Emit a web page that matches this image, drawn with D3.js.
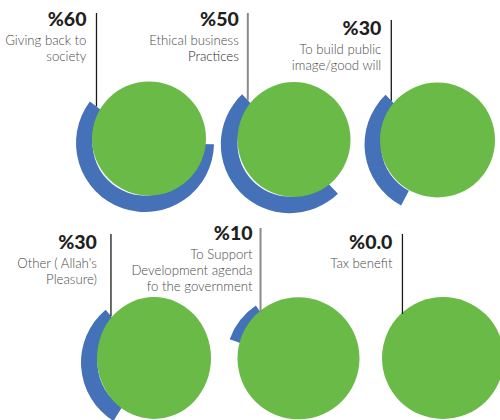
<!DOCTYPE html>
<html>
<head>
<meta charset="utf-8">
<script src="https://cdn.jsdelivr.net/npm/d3@7"></script>
<style>
  html, body { margin: 0; padding: 0; background: #fff; }
  svg { display: block; }
</style>
</head>
<body>
<svg id="chart" width="500" height="420"></svg>
<script>
// Survey answers: share of respondents naming each motive
const motives = [
  ["Giving back to", "society"],
  ["Ethical business", "Practices"],
  ["To build public", "image/good will"],
  ["Other ( Allah's", "Pleasure)"],
  ["To Support", "Development agenda", "fo the government"],
  ["Tax benefit"]
];
const shares = [60, 50, 30, 30, 10, 0];

// Layout of the six gauges (ring centre, disc size, anchor angle, caption placement)
const layout = [
  { cx: 145, cy: 143, rx: 57, ry: 57, anchor: -53, lineTop: 13,  pctY: 26,  gap: 10, strong: true },
  { cx: 290, cy: 144, rx: 56.5, ry: 57.5, anchor: -44, lineTop: 13,  pctY: 26,  gap: 9,  strong: false },
  { cx: 433.5, cy: 144.5, rx: 57.5, ry: 57.5, anchor: -44, lineTop: 20,  pctY: 35,  gap: 10, strong: true },
  { cx: 150, cy: 362.5, rx: 57, ry: 61, anchor: -40, lineTop: 234, pctY: 249, gap: 14, strong: true },
  { cx: 294.5, cy: 362.8, rx: 61, ry: 61, anchor: -34, lineTop: 228, pctY: 240, gap: 8,  strong: false },
  { cx: 439, cy: 362.5, rx: 61, ry: 61, anchor: -37, lineTop: 234, pctY: 249, gap: 10, strong: true }
];

const BLUE = "#4571b8", GREEN = "#69ba47";
const inner = 52.5, outer = 69, mid = (inner + outer) / 2;
const discShift = [4, -4.5];

const svg = d3.select("#chart");
const toRad = d => d * Math.PI / 180;
const sweep = d3.scaleLinear().domain([0, 100]).range([0, 2 * Math.PI]);
const arc = d3.arc().innerRadius(inner).outerRadius(outer);
const fmt = v => "%" + (v === 0 ? d3.format(".1f")(v) : d3.format("d")(v));

const g = svg.selectAll("g.gauge")
  .data(shares.map((v, i) => ({ v, text: motives[i], L: layout[i] })))
  .join("g")
  .attr("class", "gauge");

g.each(function (d) {
  const sel = d3.select(this);
  const L = d.L;
  const end = toRad(L.anchor);
  const start = end - sweep(d.v);

  // blue share ring, ending at the anchor angle
  if (d.v > 0) {
    sel.append("path")
      .attr("transform", `translate(${L.cx},${L.cy})`)
      .attr("d", arc({ startAngle: start, endAngle: end }))
      .attr("fill", BLUE);
  }

  // green disc on top
  sel.append("ellipse")
    .attr("cx", L.cx + discShift[0])
    .attr("cy", L.cy + discShift[1])
    .attr("rx", L.rx)
    .attr("ry", L.ry)
    .attr("fill", GREEN);

  // leader line from the caption down to the ring's anchor
  const p = d3.pointRadial(end, mid);
  const lx = L.cx + p[0], ly = L.cy + p[1];
  sel.append("line")
    .attr("x1", lx).attr("x2", lx)
    .attr("y1", L.lineTop).attr("y2", ly)
    .attr("stroke", L.strong ? "#1a1a1a" : "#8a8a8a")
    .attr("stroke-width", L.strong ? 1.3 : 2);

  const tx = lx - L.gap;
  sel.append("text")
    .attr("x", tx).attr("y", L.pctY)
    .attr("text-anchor", "end")
    .attr("font-family", "Lato, 'Open Sans', sans-serif")
    .attr("font-weight", 900)
    .attr("font-size", 19.5)
    .attr("fill", "#1f1f1f")
    .text(fmt(d.v));

  sel.selectAll("text.lbl")
    .data(d.text)
    .join("text")
    .attr("class", "lbl")
    .attr("x", tx)
    .attr("y", (t, j) => L.pctY + 18.5 + j * 16.3)
    .attr("text-anchor", "end")
    .attr("font-family", "Lato, 'Open Sans', sans-serif")
    .attr("font-weight", 300)
    .attr("font-size", 13.2)
    .attr("fill", t => t === "Practices" ? "#2a2a2a" : "#4a4a4a")
    .text(t => t);
});
</script>
</body>
</html>
